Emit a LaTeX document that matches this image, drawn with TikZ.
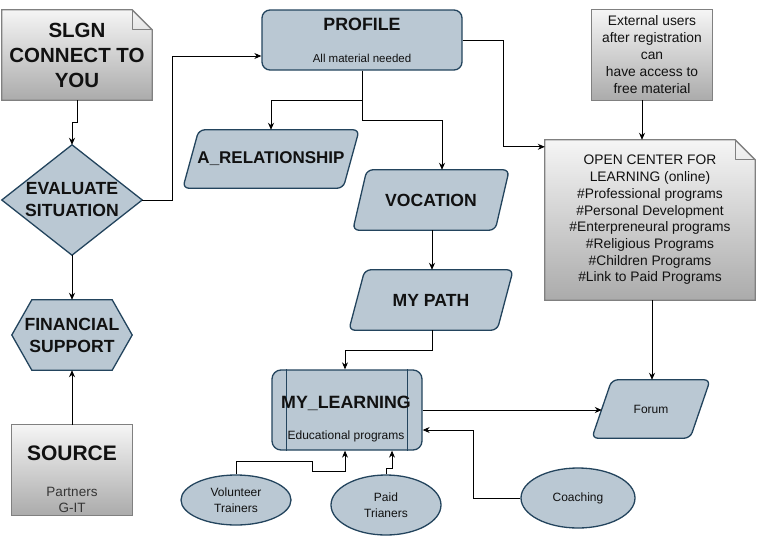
\documentclass[tikz,border=0pt]{standalone}
\usepackage{fontspec}
\setmainfont{Liberation Sans}
\usetikzlibrary{arrows.meta,calc,shapes.geometric}
\definecolor{bfill}{HTML}{BAC8D3}
\definecolor{bstroke}{HTML}{23445D}
\definecolor{gtop}{HTML}{F5F5F5}
\definecolor{gbot}{HTML}{ABABAB}
\definecolor{gstroke}{HTML}{808080}
\definecolor{txt}{HTML}{111111}
\pgfdeclarelayer{bg}
\pgfsetlayers{bg,main}
\newcommand{\drawpar}[2]{\path[bluefill, rounded corners=6pt] ([xshift=-#2]#1.south west) -- ([xshift=#2]#1.north west) -- ([xshift=#2]#1.north east) -- ([xshift=-#2]#1.south east) -- cycle;}
\newcommand{\drawnote}[2]{\path[grayshade] (#1.south west) -- (#1.north west) -- ([xshift=-#2]#1.north east) -- ([yshift=-#2]#1.north east) -- (#1.south east) -- cycle;
\draw[gstroke, line width=1.3pt, line join=round] ([xshift=-#2]#1.north east) -- ([xshift=-#2,yshift=-#2]#1.north east) -- ([yshift=-#2]#1.north east);}
\begin{document}
\begin{tikzpicture}[x=1pt,y=-1pt,
  bluefill/.style={fill=bfill, draw=bstroke, line width=1.3pt},
  grayshade/.style={top color=gtop, bottom color=gbot, draw=gstroke, line width=1.3pt},
  conn/.style={-{Stealth[length=7pt,width=6pt]}, line width=0.9pt, black},
  holder/.style={inner sep=0pt, minimum width=#1},
  bigt/.style={font=\fontsize{17.6}{22}\selectfont\bfseries, text=txt, align=center},
  smallt/.style={font=\fontsize{12}{16}\selectfont, text=txt, align=center},
  ell/.style={ellipse, bluefill, inner sep=0pt}
]
\useasboundingbox (0,0) rectangle (758,541);

% nodes
\node[holder=150, minimum height=90, font=\fontsize{20.5}{25}\selectfont\bfseries, text=txt, align=center] (slgn) at (77,55) {SLGN\\CONNECT TO\\YOU};
\node[holder=140, minimum height=110, bigt] (ev) at (72,200) {EVALUATE\\SITUATION};
\node[holder=120, minimum height=70, bigt] (fin) at (72,335) {FINANCIAL\\SUPPORT};
\node[holder=120, minimum height=90] (src) at (72,470) {};
\node[font=\fontsize{21}{25}\selectfont\bfseries, text=txt] (srct) at (72,453) {SOURCE};
\node[font=\fontsize{13.5}{16}\selectfont, text=txt!85, align=center] (srcs) at (72,500) {Partners\\G-IT};

\node[rounded corners=8pt, bluefill, minimum width=200, minimum height=60, inner sep=0pt] (profile) at (362,40) {};
\node[bigt, font=\fontsize{17.8}{22}\selectfont\bfseries] (proft) at (362,24) {PROFILE};
\node[font=\fontsize{11.5}{14}\selectfont, text=txt] (profs) at (362,58) {All material needed};

\node[holder=160, minimum height=58, bigt, font=\fontsize{17}{20}\selectfont\bfseries] (arel) at (271,159) {A\_RELATIONSHIP};
\node[holder=142, minimum height=60, bigt] (voc) at (431,200) {VOCATION};
\node[holder=148, minimum height=60, bigt] (path) at (431,300) {MY PATH};

\node[rounded corners=9pt, bluefill, minimum width=150, minimum height=80, inner sep=0pt] (learn) at (347,410) {};
\draw[bstroke, line width=1.3pt] ([xshift=15pt]learn.north west) -- ([xshift=15pt]learn.south west);
\draw[bstroke, line width=1.3pt] ([xshift=-15pt]learn.north east) -- ([xshift=-15pt]learn.south east);
\node[bigt, font=\fontsize{17.8}{22}\selectfont\bfseries] (learnt) at (346,403) {MY\_LEARNING};
\node[smallt] (learns) at (346,436) {Educational programs};

\node[holder=98, minimum height=58, smallt] (forum) at (651,409) {Forum};

\node[holder=210, minimum height=160, font=\fontsize{13.8}{16.7}\selectfont, text=txt, align=center] (open) at (650,220) {OPEN CENTER FOR\\LEARNING (online)\\\#Professional programs\\\#Personal Development\\\#Enterpreneural programs\\\#Religious Programs\\\#Children Programs\\\#Link to Paid Programs};
\node[holder=120, minimum height=90, font=\fontsize{13.8}{17}\selectfont, text=txt, align=center] (ext) at (652,55) {External users\\after registration\\can\\have access to\\free material};

\node[ell, minimum width=110, minimum height=50, smallt] (vol) at (236,500) {Volunteer\\Trainers};
\node[ell, minimum width=110, minimum height=60, smallt] (paid) at (386,505) {Paid\\Trianers};
\node[ell, minimum width=114, minimum height=60, smallt] (coach) at (578,498) {Coaching};

% shapes behind text
\begin{pgfonlayer}{bg}
\drawnote{slgn}{20pt}
\drawnote{open}{20pt}
\path[grayshade] (src.south west) rectangle (src.north east);
\path[grayshade] (ext.south west) rectangle (ext.north east);
\path[bluefill, line join=miter] (ev.north) -- (ev.east) -- (ev.south) -- (ev.west) -- cycle;
\path[bluefill] (fin.west) -- ([xshift=20pt]fin.north west) -- ([xshift=-20pt]fin.north east) -- (fin.east) -- ([xshift=-20pt]fin.south east) -- ([xshift=20pt]fin.south west) -- cycle;
\drawpar{arel}{8pt}
\drawpar{voc}{7pt}
\drawpar{path}{8pt}
\drawpar{forum}{10pt}
\end{pgfonlayer}

% connectors
\draw[conn] (slgn.south) -- ++(0,22) -| (ev.north);
\draw[conn] (ev.south) -- (fin.north);
\draw[conn] (src.north) -- (fin.south);
\draw[conn] (ev.east) -- ++(30,0) |- ([yshift=-16pt]profile.west);
\draw[conn] (profile.south) -- ++(0,30) -| (arel.north);
\draw[conn] (profile.south) -- ++(0,50) -| ([xshift=11pt]voc.north);
\draw[conn] ([xshift=1pt]voc.south) -- ([xshift=1pt]path.north);
\draw[conn] ([xshift=1pt]path.south) -- ++(0,20) -| ([xshift=-2pt]learn.north);
\draw[conn] (learn.east) -- (learn.east -| forum.west);
\draw[conn] (profile.east) -- ++(41,0) |- ([yshift=-7pt]open.north west);
\draw[conn] ([xshift=-10pt]ext.south) -- ([xshift=-8pt]open.north);
\draw[conn] ([xshift=2pt]open.south) -- ([xshift=1pt]forum.north);
\draw[conn] (vol.north) -- ++(0,-13) -- ++(76,0) -- ++(0,10) -| ([xshift=-2pt]learn.south);
\draw[conn] (paid.north) -- ++(0,-6) -| ([xshift=45pt]learn.south);
\draw[conn] (coach.west) -- ++(-47,0) |- ([yshift=-20pt]learn.east);
\end{tikzpicture}
\end{document}
